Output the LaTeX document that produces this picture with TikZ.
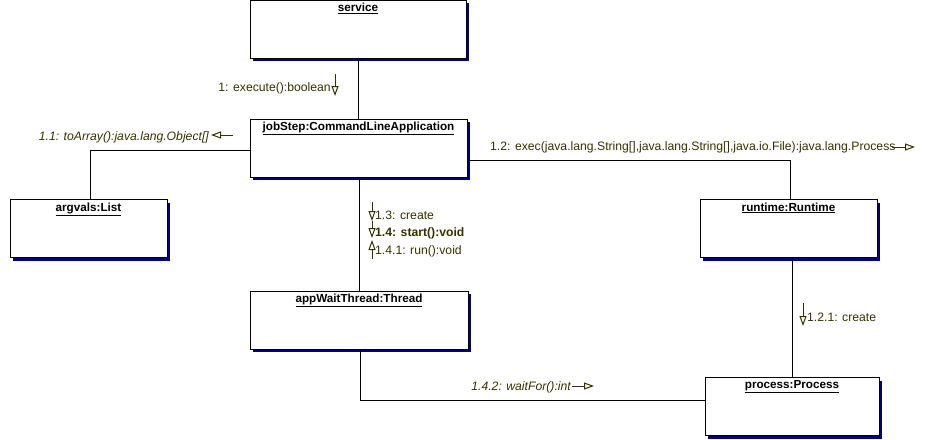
\documentclass[tikz,border=0pt]{standalone}
\usepackage{fontspec}
\setmainfont{Liberation Sans}
\usetikzlibrary{arrows.meta,shadows}
\definecolor{msgcol}{RGB}{51,51,0}
\definecolor{shadowcol}{RGB}{0,0,128}
\begin{document}
\begin{tikzpicture}[x=1pt,y=-1pt,font=\fontsize{12.2pt}{14pt}\selectfont,
  obj/.style={draw,line width=1pt,fill=white,minimum width=#1,minimum height=58pt,inner sep=0pt,
    drop shadow={shadow xshift=3pt,shadow yshift=-3pt,fill=shadowcol,opacity=1}},
  ttl/.style={anchor=north,yshift=-3.5pt,inner sep=0pt,font=\fontsize{11.7pt}{13pt}\selectfont\bfseries},
  lbl/.style={text=msgcol,inner sep=0pt},
  msg/.style={draw=msgcol,line width=1pt,-{Triangle[open,length=10pt,width=7pt]}},
  link/.style={draw,line width=1pt}]
\useasboundingbox (0,0) rectangle (926,439);

% objects
\node[obj=216pt,label={[ttl]north:\underline{service}}] (service) at (358,29) {};
\node[obj=217pt,label={[ttl]north:\underline{jobStep:CommandLineApplication}}] (jobStep) at (358.5,148) {};
\node[obj=157pt,label={[ttl]north:\underline{argvals:List}}] (argvals) at (88.5,228.5) {};
\node[obj=177pt,label={[ttl]north:\underline{runtime:Runtime}}] (runtime) at (788.5,228.5) {};
\node[obj=218pt,label={[ttl]north:\underline{appWaitThread:Thread}}] (appWaitThread) at (359,320) {};
\node[obj=174pt,label={[ttl]north:\underline{process:Process}}] (process) at (792,406.5) {};

% links
\draw[link] (service.south) -- (service.south |- jobStep.north);
\draw[link] ([yshift=-2pt]jobStep.west) -| ([xshift=1.5pt]argvals.north);
\draw[link] ([yshift=-12pt]jobStep.east) -| ([xshift=1.5pt]runtime.north);
\draw[link] (runtime.south -| process.north) -- (process.north);
\draw[link] (jobStep.south -| appWaitThread.north) -- (appWaitThread.north);
\draw[link] ([xshift=1pt]appWaitThread.south) |- ([yshift=6.5pt]process.west);

% messages
\node[lbl,anchor=east] (m1) at (331,88) {1: execute():boolean};
\coordinate (m1a) at (335,74); \coordinate (m1b) at (335,96);
\draw[msg] (m1a) -- (m1b);

\node[lbl,anchor=east] (m11) at (209,137) {\itshape 1.1: toArray():java.lang.Object[]};
\coordinate (m11a) at (233,135); \coordinate (m11b) at (211,135);
\draw[msg] (m11a) -- (m11b);

\node[lbl,anchor=west] (m12) at (490,147) {1.2: exec(java.lang.String[],java.lang.String[],java.io.File):java.lang.Process};
\coordinate (m12a) at (892,147); \coordinate (m12b) at (915,147);
\draw[msg] (m12a) -- (m12b);

\node[lbl,anchor=west] (m13) at (375,215) {1.3: create};
\node[lbl,anchor=west] (m14) at (375,233) {\bfseries 1.4: start():void};
\node[lbl,anchor=west] (m141) at (375,251) {1.4.1: run():void};
\coordinate (m13a) at (372,202); \coordinate (m13b) at (372,221);
\coordinate (m14b) at (372,238); \coordinate (m141a) at (372,259);
\coordinate (m141b) at (372,240);
\draw[msg] (m13a) -- (m13b);
\draw[msg] (m13b) -- (m14b);
\draw[msg] (m141a) -- (m141b);

\node[lbl,anchor=west] (m121) at (807,317) {1.2.1: create};
\coordinate (m121a) at (803,303); \coordinate (m121b) at (803,326);
\draw[msg] (m121a) -- (m121b);

\node[lbl,anchor=east] (m142) at (571,387) {\itshape 1.4.2: waitFor():int};
\coordinate (m142a) at (572,386); \coordinate (m142b) at (594,386);
\draw[msg] (m142a) -- (m142b);
\end{tikzpicture}
\end{document}
